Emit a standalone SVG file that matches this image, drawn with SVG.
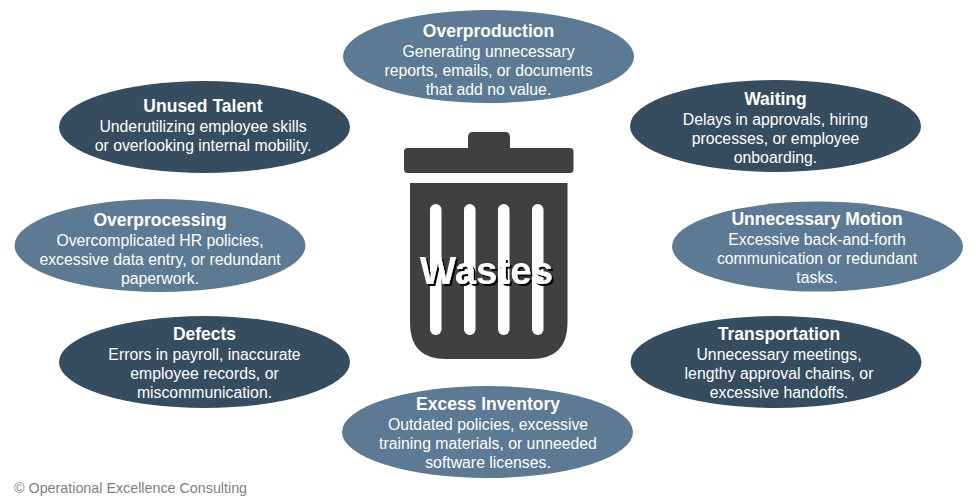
<svg xmlns="http://www.w3.org/2000/svg" width="980" height="499" viewBox="0 0 980 499">
<defs><filter id="sh" x="-10%" y="-20%" width="125%" height="150%"><feDropShadow dx="2" dy="2" stdDeviation="0.4" flood-color="#000"/></filter></defs>
<style>
text{font-family:"Liberation Sans",Arial,sans-serif;text-anchor:middle;fill:#fff}
.t{font-size:17.5px;font-weight:bold}
.b{font-size:15.8px}
.d{fill:#364c5f}
.l{fill:#5c7a94}
.bin{fill:#404040}
.slot{fill:#fff}
.w{font-size:38.5px;font-weight:bold;filter:url(#sh)}
</style>
<rect width="980" height="499" fill="#fff"/>
<g id="connectors"/>
<g id="bin">
<path class="bin" d="M468 148V137Q468 132 473 132H505Q510 132 510 137V148H570Q573.500 148 573.500 151.500V169Q573.500 173 570 173H407.500Q404 173 404 169V151.500Q404 148 407.500 148Z"/>
<path class="bin" d="M410 183H567.500V323Q567.500 359 531 359H446Q410 359 410 323Z"/>
<rect class="slot" x="430" y="204" width="11.500" height="131" rx="5.700"/>
<rect class="slot" x="464" y="204" width="11.500" height="131" rx="5.700"/>
<rect class="slot" x="498" y="204" width="11.500" height="131" rx="5.700"/>
<rect class="slot" x="532" y="204" width="11.500" height="131" rx="5.700"/>
<text class="w" x="486.500" y="284">Wastes</text>
</g>
<g id="overproduction"><ellipse class="l" cx="488.500" cy="56.500" rx="145.500" ry="46.500"/>
<text class="t" x="488.500" y="36.500">Overproduction</text>
<text class="b" x="488.500" y="56.500">Generating unnecessary</text>
<text class="b" x="488.500" y="75.500">reports, emails, or documents</text>
<text class="b" x="488.500" y="94.500">that add no value.</text></g>
<g id="waiting"><ellipse class="d" cx="775.500" cy="126" rx="145.500" ry="46"/>
<text class="t" x="775.500" y="104.500">Waiting</text>
<text class="b" x="775.500" y="124.500">Delays in approvals, hiring</text>
<text class="b" x="775.500" y="143.500">processes, or employee</text>
<text class="b" x="775.500" y="162.500">onboarding.</text></g>
<g id="unused-talent"><ellipse class="d" cx="204.500" cy="127" rx="145.500" ry="46"/>
<text class="t" x="203" y="111.500">Unused Talent</text>
<text class="b" x="203" y="131.500">Underutilizing employee skills</text>
<text class="b" x="203" y="150.500">or overlooking internal mobility.</text></g>
<g id="overprocessing"><ellipse class="l" cx="160" cy="245.500" rx="145.500" ry="46.500"/>
<text class="t" x="160" y="225.500">Overprocessing</text>
<text class="b" x="160" y="245.500">Overcomplicated HR policies,</text>
<text class="b" x="160" y="264.500">excessive data entry, or redundant</text>
<text class="b" x="160" y="283.500">paperwork.</text></g>
<g id="unnecessary-motion"><ellipse class="l" cx="817.500" cy="246.500" rx="145.500" ry="45"/>
<text class="t" x="817" y="224.500">Unnecessary Motion</text>
<text class="b" x="817" y="244.500">Excessive back-and-forth</text>
<text class="b" x="817" y="263.500">communication or redundant</text>
<text class="b" x="817" y="282.500">tasks.</text></g>
<g id="defects"><ellipse class="d" cx="204.500" cy="362" rx="145.500" ry="46"/>
<text class="t" x="204.500" y="339.500">Defects</text>
<text class="b" x="204.500" y="359.500">Errors in payroll, inaccurate</text>
<text class="b" x="204.500" y="378.500">employee records, or</text>
<text class="b" x="204.500" y="397.500">miscommunication.</text></g>
<g id="transportation"><ellipse class="d" cx="776" cy="362" rx="145.500" ry="46"/>
<text class="t" x="779" y="339.500">Transportation</text>
<text class="b" x="779" y="359.500">Unnecessary meetings,</text>
<text class="b" x="779" y="378.500">lengthy approval chains, or</text>
<text class="b" x="779" y="397.500">excessive handoffs.</text></g>
<g id="excess-inventory"><ellipse class="l" cx="487.500" cy="432" rx="145.500" ry="46"/>
<text class="t" x="488" y="409.500">Excess Inventory</text>
<text class="b" x="488" y="429.500">Outdated policies, excessive</text>
<text class="b" x="488" y="448.500">training materials, or unneeded</text>
<text class="b" x="488" y="467.500">software licenses.</text></g>
<text x="14" y="493" style="font-size:14.300px;fill:#7f7f7f;text-anchor:start">© Operational Excellence Consulting</text>
</svg>
